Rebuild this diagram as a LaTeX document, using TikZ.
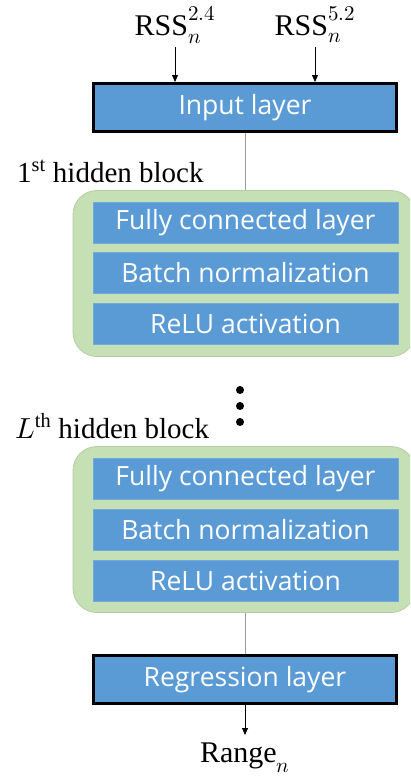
\documentclass[tikz,border=0pt]{standalone}
\usepackage{fontspec}
\usepackage{unicode-math}
\setmainfont{Liberation Serif}
\newfontfamily\boxfont{Open Sans}
\usetikzlibrary{arrows.meta,calc}
\definecolor{layerblue}{HTML}{5B9BD5}
\definecolor{blockgreen}{HTML}{C5E0B4}
\definecolor{blockedge}{HTML}{B4CCA4}
\begin{document}
\begin{tikzpicture}[x=1pt,y=-1pt,
  layer/.style={rectangle, fill=layerblue, draw=layerblue!85!white, line width=0.8pt, minimum width=305pt, minimum height=41pt, inner sep=0pt, text=white, font=\boxfont\fontsize{26.5}{30}\selectfont},
  iolayer/.style={layer, draw=black, line width=3pt, minimum width=303pt, minimum height=48pt},
  block/.style={rectangle, rounded corners=24pt, fill=blockgreen, draw=blockedge, line width=0.8pt, minimum width=342pt, minimum height=166pt, inner sep=0pt},
  lbl/.style={inner sep=0pt, font=\fontsize{29}{33}\selectfont},
  mlbl/.style={inner sep=0pt, font=\fontsize{30}{34}\selectfont},
  conn/.style={draw=gray!80, line width=1pt},
  arr/.style={draw=black, line width=0.8pt, -{Triangle[length=7pt,width=6pt]}},
  dot/.style={circle, fill=black, inner sep=0pt, minimum size=8pt}
]
\useasboundingbox (0,0) rectangle (410,779);
\clip (0,0) rectangle (410,779);

% inputs
\node[mlbl] (rssa) at (175,25) {$\mathrm{RSS}_n^{2.4}$};
\node[mlbl] (rssb) at (315,25) {$\mathrm{RSS}_n^{5.2}$};
\node[iolayer] (inp) at (245,107.5) {Input layer};
\draw[arr] ($(rssa.south)+(0,4)$) -- (rssa.south |- inp.north);
\draw[arr] ($(rssb.south)+(0,4)$) -- (rssb.south |- inp.north);

% first block
\node[lbl, anchor=base west] (lab1) at (17,182) {1\textsuperscript{st} hidden block};
\node[block] (g1) at (244,273.5) {};
\node[layer] (fc1) at (245.5,222.5) {Fully connected layer};
\node[layer] (bn1) at (245.5,272.5) {Batch normalization};
\node[layer] (re1) at (245.5,323.5) {ReLU activation};
\draw[conn] (inp.south) -- (inp.south |- g1.north);

% dots
\node[dot] (d1) at (240,390) {};
\node[dot] (d2) at (240,406) {};
\node[dot] (d3) at (240,422) {};

% L-th block
\node[lbl, anchor=base west] (lab2) at (15,438) {$L$\textsuperscript{th} hidden block};
\node[block] (g2) at (244,529.5) {};
\node[layer] (fc2) at (245.5,479) {Fully connected layer};
\node[layer] (bn2) at (245.5,529.5) {Batch normalization};
\node[layer] (re2) at (245.5,580.5) {ReLU activation};

% output
\node[iolayer] (reg) at (245,679.5) {Regression layer};
\draw[conn] (reg.north |- g2.south) -- (reg.north);
\node[mlbl, anchor=base] (rng) at (245,762) {$\mathrm{Range}_n$};
\draw[arr] (reg.south) -- ($(reg.south)+(0,30)$);
\end{tikzpicture}
\end{document}
